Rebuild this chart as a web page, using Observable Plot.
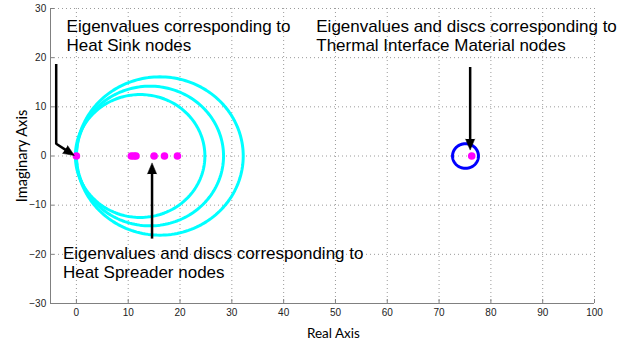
<!DOCTYPE html>
<html><head><meta charset="utf-8">
<script src="https://cdn.jsdelivr.net/npm/d3@7"></script>
<script src="https://cdn.jsdelivr.net/npm/@observablehq/plot@0.6"></script>
<style>
html,body{margin:0;padding:0;background:#fff;}
#chart svg{display:block;}
</style>
</head><body><div id="chart"></div>
<script>
// ---- data ----
const xTicks = [0, 10, 20, 30, 40, 50, 60, 70, 80, 90, 100];
const yTicks = [-30, -20, -10, 0, 10, 20, 30];
const xDomain = [-5, 100];
const yDomain = [-30, 30];

const eigenReal = [0, 10.6, 11.1, 11.5, 15.0, 17.0, 19.5, 76.3];
const eigenImag = [0, 0, 0, 0, 0, 0, 0, 0];

const spreaderDiscCenters = [12.3, 14.2, 16.1];
const spreaderDiscRadii = [12.5, 14.2, 16.1];
const timDiscCenters = [75.1];
const timDiscRadii = [2.5];

const annotationTexts = [
  "Eigenvalues corresponding to\nHeat Sink nodes",
  "Eigenvalues and discs corresponding to\nHeat Spreader nodes",
  "Eigenvalues and discs corresponding to\nThermal Interface Material nodes"
];
const annotationX = [-1.9, -2.6, 46.3];
const annotationY = [21.3, -24.85, 21.3];

const arrowPaths = [
  [[-3.9, 18.7], [-3.9, 2.5], [-0.4, 0.1]],
  [[14.6, -16.8], [14.6, -1.4]],
  [[76.0, 18.1], [76.0, 1.2]]
];

const xLabel = "Real Axis";
const yLabel = "Imaginary Axis";

// ---- layout ----
const W = 644, H = 341;
const mt = 8, mr = 50, mb = 38, ml = 50;
const fw = W - ml - mr, fh = H - mt - mb;
const ppx = fw / (xDomain[1] - xDomain[0]);
const ppy = fh / (yDomain[1] - yDomain[0]);

// ---- derived tables ----
const eigen = eigenReal.map((x, i) => ({x, y: eigenImag[i]}));

function discOutline(centers, radii, group) {
  const out = [];
  centers.forEach((c, k) => {
    const r = radii[k];
    for (let a = 0; a <= 360; a += 2) {
      const t = a * Math.PI / 180;
      out.push({k: group + k, x: c + r * Math.cos(t), y: r * Math.sin(t)});
    }
  });
  return out;
}
const spreaderDiscs = discOutline(spreaderDiscCenters, spreaderDiscRadii, "s");
const timDiscs = discOutline(timDiscCenters, timDiscRadii, "t");

const annotations = annotationTexts.map((text, i) => ({text, x: annotationX[i], y: annotationY[i]}));

const headLen = 11, headR = 4.6;
const shafts = [], heads = [];
arrowPaths.forEach((pts, k) => {
  const n = pts.length;
  const [x1, y1] = pts[n - 2], [x2, y2] = pts[n - 1];
  const sx = (x2 - x1) * ppx, sy = -(y2 - y1) * ppy;
  const len = Math.hypot(sx, sy);
  const ux = sx / len, uy = sy / len;
  const back = headLen - 2;
  pts.slice(0, n - 1).forEach(p => shafts.push({k, x: p[0], y: p[1]}));
  shafts.push({k, x: x2 - ux * back / ppx, y: y2 + uy * back / ppy});
  heads.push({x: x2, y: y2, rotate: Math.atan2(ux, -uy) * 180 / Math.PI});
});

const axisColor = "#808080";
const gridStyle = {stroke: "#9a9a9a", strokeOpacity: 1, strokeDasharray: "1,3", strokeWidth: 1};

const chart = Plot.plot({
  width: W,
  height: H,
  marginTop: mt, marginRight: mr, marginBottom: mb, marginLeft: ml,
  style: {fontFamily: "'Liberation Sans', Arial, sans-serif", fontSize: "10px", background: "#fff", color: "#000"},
  x: {domain: xDomain},
  y: {domain: yDomain},
  marks: [
    Plot.gridX(xTicks, gridStyle),
    Plot.gridY(yTicks, gridStyle),
    Plot.ruleX([xDomain[0]], {stroke: axisColor}),
    Plot.ruleY([yDomain[0]], {stroke: axisColor}),
    Plot.ruleX(xTicks, {x: d => d, stroke: axisColor, insetTop: fh - 4}),
    Plot.ruleY(yTicks, {y: d => d, stroke: axisColor, insetRight: fw - 4}),
    Plot.axisX({ticks: xTicks, tickSize: 0, tickPadding: 5.5, label: null, color: "#222", fontSize: 10}),
    Plot.axisY({ticks: yTicks, tickSize: 0, tickPadding: 4.3, label: null, color: "#222", fontSize: 10}),
    Plot.line(spreaderDiscs, {x: "x", y: "y", z: "k", stroke: "#00ffff", strokeWidth: 3, curve: "linear"}),
    Plot.line(timDiscs, {x: "x", y: "y", z: "k", stroke: "#0000ff", strokeWidth: 3, curve: "linear"}),
    Plot.dot(eigen, {x: "x", y: "y", r: 3.8, fill: "#ff00ff", stroke: null}),
    Plot.line(shafts, {x: "x", y: "y", z: "k", stroke: "#000", strokeWidth: 2.5, strokeLinejoin: "miter", strokeLinecap: "butt"}),
    Plot.vector(heads, {x: "x", y: "y", rotate: "rotate", length: headLen, r: headR, shape: "spike", anchor: "end", fill: "#000", stroke: "#000", strokeWidth: 0.5}),
    Plot.text(annotations, {x: "x", y: "y", text: "text", textAnchor: "start", lineAnchor: "bottom", lineHeight: 1.12, fontSize: 17, fill: "#000"}),
    Plot.text([xLabel], {x: () => 49.6, frameAnchor: "bottom", dy: 34.3, text: d => d, textAnchor: "middle", lineAnchor: "bottom", fontFamily: "Lato, 'Open Sans', sans-serif", fontSize: 13.5, fill: "#000"}),
    Plot.text([yLabel], {y: () => 0, frameAnchor: "left", dx: -28.6, rotate: -90, text: d => d, textAnchor: "middle", lineAnchor: "middle", fontFamily: "Lato, 'Open Sans', sans-serif", fontSize: 14.6, fill: "#000"})
  ]
});
document.getElementById("chart").appendChild(chart);
</script>
</body></html>
